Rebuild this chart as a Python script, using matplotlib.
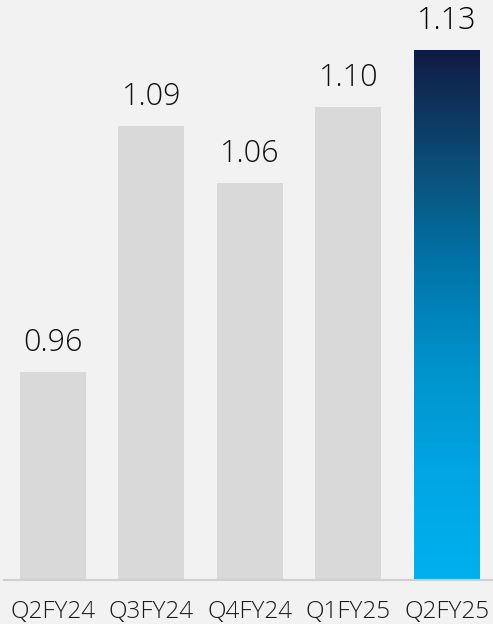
import numpy as np
import matplotlib.pyplot as plt
from matplotlib.colors import LinearSegmentedColormap
from matplotlib.transforms import blended_transform_factory

quarters = ["Q2FY24", "Q3FY24", "Q4FY24", "Q1FY25", "Q2FY25"]
values = [0.96, 1.09, 1.06, 1.10, 1.13]

plt.rcParams['font.family'] = ['Open Sans', 'DejaVu Sans']

fig = plt.figure(figsize=(4.93, 6.24), dpi=100, facecolor='#f2f2f2')
ax = fig.add_axes([4/493, 44/624, 489/493, 580/624])
ax.set_facecolor('#f2f2f2')

ymin = 0.85
ymax = 1.13 + 50/1892
width = 0.67
x = np.arange(len(quarters))

# grey bars for everything but the latest quarter
ax.bar(x[:-1], np.array(values[:-1]) - ymin, bottom=ymin, width=width, color='#d9d9d9')

# gradient bar for the latest quarter (cyan at the bottom, navy at the top)
cmap = LinearSegmentedColormap.from_list('grad', [
    (0.0, '#00b0f0'), (0.2, '#00a6e3'), (0.4, '#0093cc'),
    (0.58, '#0077ad'), (0.78, '#0b4f78'), (1.0, '#101b45')])
grad = np.linspace(0, 1, 256).reshape(-1, 1)
ax.imshow(grad, cmap=cmap, origin='lower', aspect='auto',
          extent=[x[-1] - width/2, x[-1] + width/2, ymin, values[-1]], zorder=2)

for i, v in enumerate(values):
    ax.annotate(f"{v:.2f}", (x[i], v), xytext=(0, 15), textcoords='offset points',
                ha='center', va='baseline', fontsize=22, fontweight='light',
                color='#000000' if i == len(values) - 1 else '#111111')

trans = blended_transform_factory(ax.transData, fig.transFigure)
for i, q in enumerate(quarters):
    ax.text(x[i], 1 - 618/624, q, transform=trans, ha='center', va='baseline',
            fontsize=17.5, fontweight='light', color='#1a1a1a')

ax.set_xlim(-0.498, 4.47)
ax.set_ylim(ymin, ymax)
ax.set_xticks([])
ax.set_yticks([])
for s in ['top', 'right', 'left']:
    ax.spines[s].set_visible(False)
ax.spines['bottom'].set_color('#d0d0d0')
ax.spines['bottom'].set_linewidth(1.5)

fig.savefig('out.png', dpi=100, facecolor='#f2f2f2')
